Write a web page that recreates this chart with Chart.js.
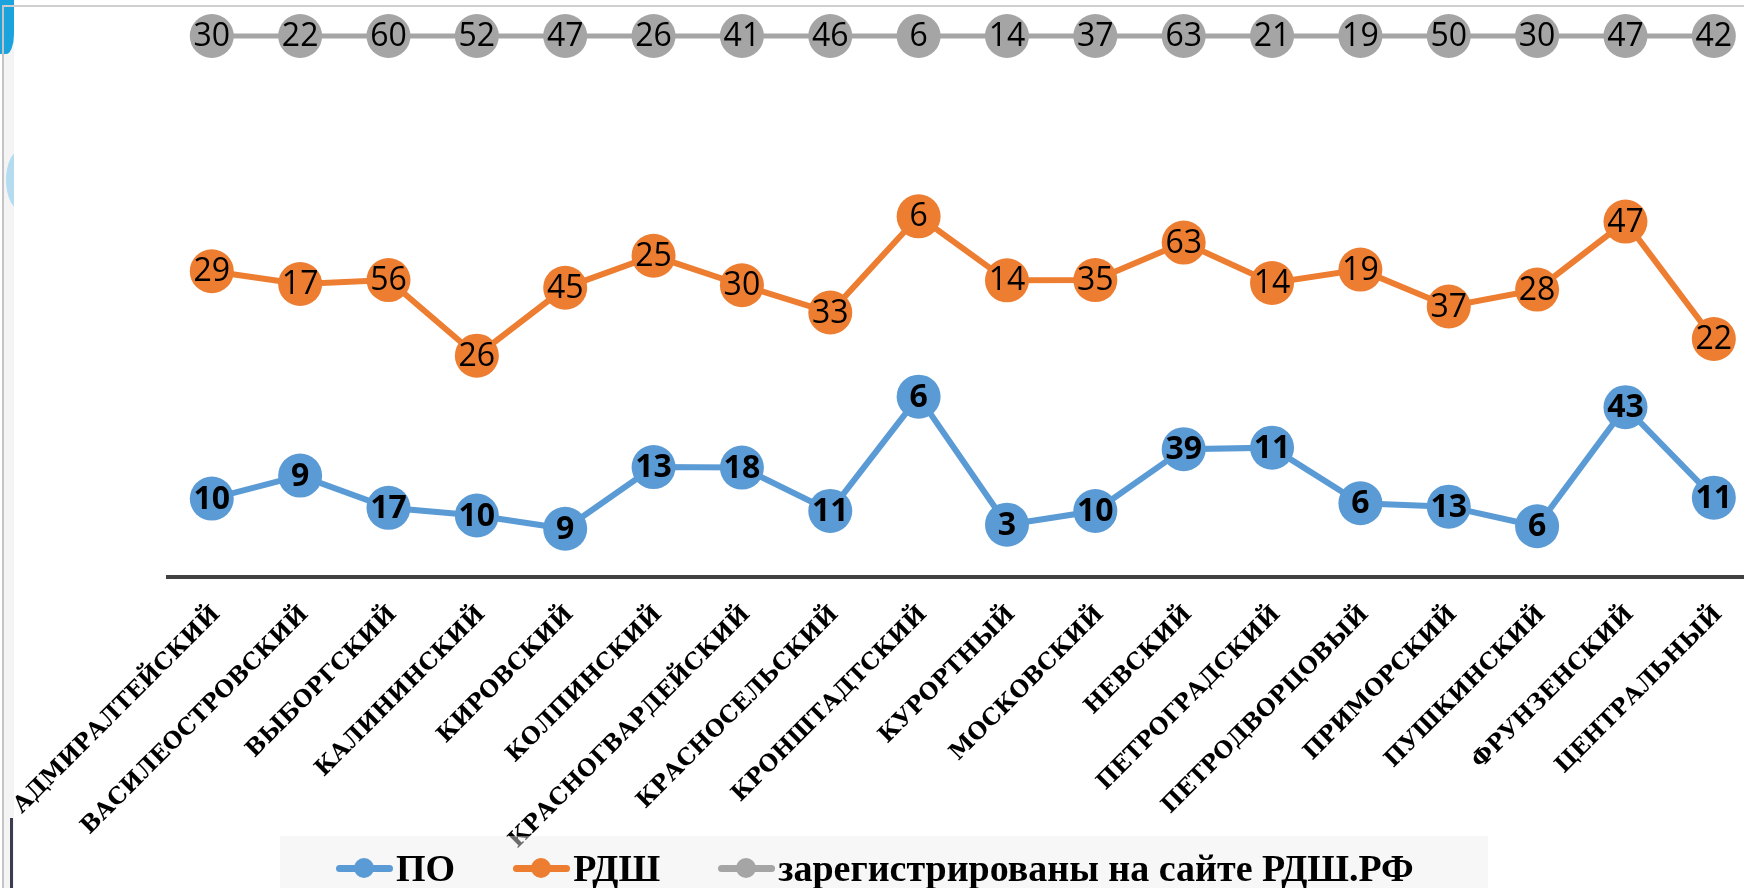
<!DOCTYPE html>
<html>
<head>
<meta charset="utf-8">
<script src="https://cdn.jsdelivr.net/npm/chart.js@4.4.1/dist/chart.umd.min.js"></script>
<style>
	html, body { margin: 0; padding: 0; background: #fff; overflow: hidden; }
	#wrap { position: relative; width: 1744px; height: 888px; overflow: hidden; background: #fff; }
	#lineChart { position: absolute; left: 0; top: 0; }
	#legend-container {
		position: absolute; left: 280px; top: 836px; width: 1208px; height: 64px;
		background: rgba(238, 238, 238, 0.45);
	}
	#legend-container ul { list-style: none; white-space: nowrap; }
	.frame-top { position: absolute; left: 3px; top: 5px; width: 1741px; height: 2px; background: #cfcfcf; }
	.frame-left { position: absolute; left: 2px; top: 5px; width: 2px; height: 883px; background: #c4c4c4; }
	.strip { position: absolute; left: 4px; top: 7px; width: 10px; height: 881px; background: #f4f4f4; }
	.blue-corner { position: absolute; left: 0; top: 0; width: 14px; height: 54px; background: #1ba3de; border-bottom-right-radius: 8px 20px; }
	.blue-dot { position: absolute; left: 6px; top: 150px; width: 30px; height: 60px; border-radius: 50%; background: #b5dbf0; clip-path: inset(0 22px 0 0); }
	.dark-bar { position: absolute; left: 10px; top: 818px; width: 3px; height: 70px; background: #3c3c50; }
</style>
</head>
<body>
<div id="wrap">
	<div class="strip"></div>
	<div class="blue-corner"></div>
	<div class="blue-dot"></div>
	<div class="frame-top"></div>
	<div class="frame-left"></div>
	<div class="dark-bar"></div>
	<canvas id="lineChart" width="1780" height="888"></canvas>
	<div id="legend-container"></div>
</div>
<script>
const districts = [
	"АДМИРАЛТЕЙСКИЙ", "ВАСИЛЕОСТРОВСКИЙ", "ВЫБОРГСКИЙ", "КАЛИНИНСКИЙ", "КИРОВСКИЙ",
	"КОЛПИНСКИЙ", "КРАСНОГВАРДЕЙСКИЙ", "КРАСНОСЕЛЬСКИЙ", "КРОНШТАДТСКИЙ", "КУРОРТНЫЙ",
	"МОСКОВСКИЙ", "НЕВСКИЙ", "ПЕТРОГРАДСКИЙ", "ПЕТРОДВОРЦОВЫЙ", "ПРИМОРСКИЙ",
	"ПУШКИНСКИЙ", "ФРУНЗЕНСКИЙ", "ЦЕНТРАЛЬНЫЙ",
];
const countPO = [10, 9, 17, 10, 9, 13, 18, 11, 6, 3, 10, 39, 11, 6, 13, 6, 43, 11];
const countRDSh = [29, 17, 56, 26, 45, 25, 30, 33, 6, 14, 35, 63, 14, 19, 37, 28, 47, 22];
const countSite = [30, 22, 60, 52, 47, 26, 41, 46, 6, 14, 37, 63, 21, 19, 50, 30, 47, 42];

// 100% stacked: each series is drawn as its share of the district total
const totals = districts.map((d, i) => countPO[i] + countRDSh[i] + countSite[i]);
const share = (arr) => arr.map((v, i) => (v / totals[i]) * 100);

const tickFont = "'DejaVu Serif', serif";
const legendFont = "'Liberation Serif', 'Times New Roman', serif";

const makeSeries = (label, counts, color, bold) => ({
	label: label,
	data: share(counts),
	counts: counts,
	labelBold: bold,
	fill: false,
	lineTension: 0,
	borderColor: color,
	backgroundColor: color,
	borderWidth: 6,
	pointRadius: 22,
	pointHoverRadius: 22,
	pointBorderWidth: 0,
	pointBackgroundColor: color,
	clip: false,
});

let dataFirst = makeSeries("ПО", countPO, "#5B9BD5", true);
let dataSecond = makeSeries("РДШ", countRDSh, "#ED7D31", false);
let dataThird = makeSeries("зарегистрированы на сайте РДШ.РФ", countSite, "#A5A5A5", false);
dataThird.borderWidth = 5;

// numbers inside the markers
const valueLabels = {
	id: "valueLabels",
	afterDatasetsDraw(chart) {
		const c = chart.ctx;
		chart.data.datasets.forEach((ds, i) => {
			const meta = chart.getDatasetMeta(i);
			c.save();
			c.font = (ds.labelBold ? "bold " : "") + "32px 'Open Sans'";
			c.fillStyle = "#000";
			c.textAlign = "center";
			c.textBaseline = "middle";
			meta.data.forEach((pt, j) => c.fillText(String(ds.counts[j]), pt.x, pt.y + 1));
			c.restore();
		});
	},
};

let chartOptions = {
	responsive: false,
	animation: false,
	layout: { padding: { left: 167.6, right: 14.6, top: 36, bottom: 0 } },
	plugins: {
		legend: { display: false },
		tooltip: { enabled: false },
	},
	scales: {
		x: {
			offset: true,
			grid: { display: false, drawTicks: false },
			border: { display: true, color: "#404040", width: 4 },
			ticks: {
				autoSkip: false,
				maxRotation: 45,
				minRotation: 45,
				padding: 24,
				labelOffset: 5,
				color: "#000",
				font: { family: tickFont, weight: "bold", size: 23 },
			},
			afterFit(scale) {
				scale.height = 311;
				scale.paddingLeft = 0;
				scale.paddingRight = 0;
			},
		},
		y: { display: false, stacked: true, min: 0, max: 100 },
	},
};

let lineData = {
	labels: districts,
	datasets: [dataFirst, dataSecond, dataThird],
};

let ctx = new Chart(document.getElementById("lineChart"), {
	type: "line",
	data: lineData,
	options: chartOptions,
	plugins: [valueLabels],
});

// legend below the axis labels
const legendContainer = document.getElementById("legend-container");
const list = document.createElement("ul");
list.style.display = "flex";
list.style.alignItems = "center";
list.style.height = "64px";
list.style.margin = 0;
list.style.padding = "0 0 0 56px";
list.style.gap = "58px";

ctx.data.datasets.forEach((ds) => {
	const li = document.createElement("li");
	li.style.display = "flex";
	li.style.alignItems = "center";
	li.style.flex = "none";

	const mark = document.createElement("span");
	mark.style.position = "relative";
	mark.style.display = "inline-block";
	mark.style.width = "57px";
	mark.style.height = "20px";
	mark.style.marginRight = "3px";
	const bar = document.createElement("span");
	bar.style.cssText = "position:absolute;left:0;top:6.5px;width:57px;height:7px;border-radius:4px;background:" + ds.borderColor;
	const dot = document.createElement("span");
	dot.style.cssText = "position:absolute;left:18px;top:0;width:20px;height:20px;border-radius:50%;background:" + ds.borderColor;
	mark.appendChild(bar);
	mark.appendChild(dot);

	const txt = document.createElement("span");
	txt.textContent = ds.label;
	txt.style.font = "bold 38px " + legendFont;
	txt.style.color = "#000";
	txt.style.lineHeight = "44px";
	txt.style.whiteSpace = "nowrap";

	li.appendChild(mark);
	li.appendChild(txt);
	list.appendChild(li);
});
legendContainer.appendChild(list);
</script>
</body>
</html>
